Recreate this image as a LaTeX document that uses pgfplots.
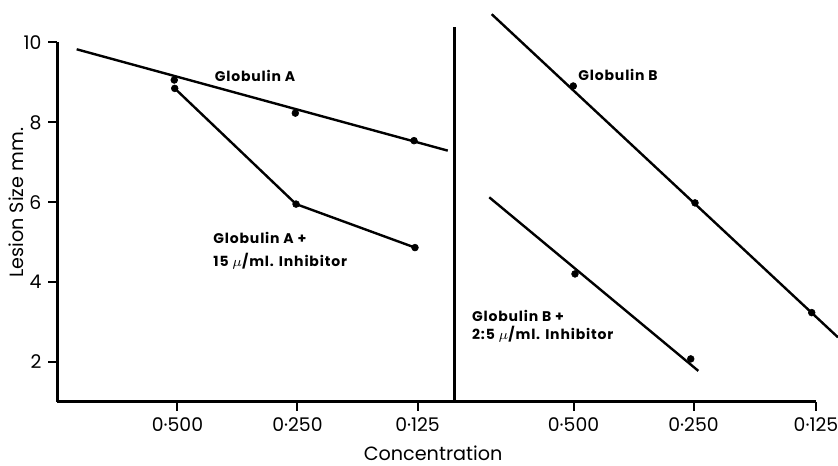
\documentclass[border=0pt]{standalone}
\usepackage{fontspec}
\setmainfont{Poppins}
\usepackage{pgfplots}
\pgfplotsset{compat=1.18}
\newcommand\lbl{\fontsize{7}{8}\selectfont\bfseries\addfontfeatures{LetterSpace=6}}
\begin{document}
\begin{tikzpicture}
\begin{axis}[
  x=60pt, y=19.95pt,
  xmin=0, xmax=6.32, ymin=1, ymax=10,
  axis x line=bottom, axis y line=left,
  axis line style={-, line width=1.3pt},
  xtick align=outside, ytick align=outside,
  major tick length=4.5pt,
  tick style={line width=1pt, black},
  xtick={1,2,3,4.30,5.30,6.32},
  xticklabels={0·500,0·250,0·125,0·500,0·250,0·125},
  ytick={2,4,6,8,10},
  /pgf/number format/assume math mode=true,
  ticklabel style={font=\fontsize{9.4}{10}\selectfont},
  xlabel={Concentration},
  ylabel={Lesion Size mm.},
  every axis x label/.style={at={(axis cs:3.13,1)}, anchor=base, yshift=-29.3pt, font=\fontsize{9.6}{11}\selectfont},
  every axis y label/.style={at={([xshift=-16.9pt]axis cs:0,5.98)}, anchor=base, rotate=90, font=\fontsize{9.6}{11}\selectfont},
  mark options={solid, line width=0.3pt},
  clip=false,
]
% Globulin A
\addplot[black, line width=1.2pt, no marks] coordinates {(0.16,9.83) (3.252,7.29)};
\addplot[black, only marks, mark=*, mark size=1.7pt] coordinates {(0.973,9.06) (1.982,8.23) (2.971,7.54)};
% Globulin A + inhibitor
\addplot[black, line width=1.2pt, mark=*, mark size=1.7pt, mark options={line width=0.3pt}] coordinates {(0.977,8.85) (1.988,5.95) (2.979,4.86)};
% Globulin B
\addplot[black, line width=1.2pt, no marks] coordinates {(3.618,10.71) (6.504,2.61)};
\addplot[black, only marks, mark=*, mark size=1.7pt] coordinates {(4.298,8.91) (5.3125,5.98) (6.285,3.23)};
% Globulin B + inhibitor
\addplot[black, line width=1.2pt, no marks] coordinates {(3.598,6.12) (5.34,1.77)};
\addplot[black, only marks, mark=*, mark size=1.7pt] coordinates {(4.3125,4.20) (5.277,2.07)};
% divider
\addplot[black, line width=1.3pt, no marks] coordinates {(3.31,1) (3.31,10.40)};
% labels
\node[font=\lbl, inner sep=0pt] at (axis cs:1.646,9.16) {Globulin A};
\node[font=\lbl, inner sep=0pt, anchor=west] at (axis cs:1.296,5.09) {Globulin A +};
\node[font=\lbl, inner sep=0pt, anchor=west] at (axis cs:1.296,4.51) {15 $\mu$/ml. Inhibitor};
\node[font=\lbl, inner sep=0pt, anchor=west] at (axis cs:4.3375,9.19) {Globulin B};
\node[font=\lbl, inner sep=0pt, anchor=west] at (axis cs:3.452,3.145) {Globulin B +};
\node[font=\lbl, inner sep=0pt, anchor=west] at (axis cs:3.452,2.68) {2:5 $\mu$/ml. Inhibitor};
\coordinate (BL) at (axis cs:-0.479,-0.614);
\coordinate (TR) at (axis cs:6.504,11.065);
\end{axis}
\pgfresetboundingbox
\useasboundingbox (BL) rectangle (TR);
\end{tikzpicture}
\end{document}
